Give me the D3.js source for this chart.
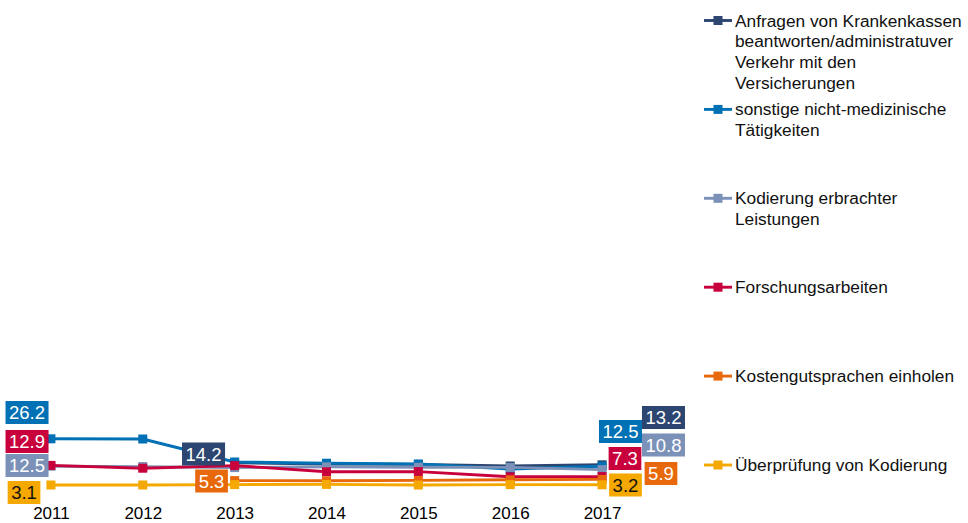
<!DOCTYPE html>
<html>
<head>
<meta charset="utf-8">
<script src="https://cdn.jsdelivr.net/npm/d3@7"></script>
<style>
  html, body { margin: 0; padding: 0; background: #fff; }
  svg { display: block; font-family: "Liberation Sans", Arial, sans-serif; }
</style>
</head>
<body>
<svg id="chart" width="968" height="523"></svg>
<script>
// Years on the category axis
const years = ["2011", "2012", "2013", "2014", "2015", "2016", "2017"];

// Series names (legend lines) and values per year (null = no value)
const seriesNames = [
  ["Anfragen von Krankenkassen", "beantworten/administratuver", "Verkehr mit den", "Versicherungen"],
  ["sonstige nicht-medizinische", "Tätigkeiten"],
  ["Kodierung erbrachter", "Leistungen"],
  ["Forschungsarbeiten"],
  ["Kostengutsprachen einholen"],
  ["Überprüfung von Kodierung"]
];
const anfragen      = [null, null, 14.2, 13.6, 13.4, 12.6, 13.2];
const sonstige      = [26.2, 26.1, 14.6, 14.0, 13.6, 11.1, 12.5];
const kodierung     = [12.5, 12.3, 11.8, 12.2, 12.0, 11.9, 10.8];
const forschung     = [12.9, 11.5, 12.8, 9.7, 9.8, 7.2, 7.3];
const kosten        = [null, null, 5.3, 5.2, 5.4, 5.7, 5.9];
const ueberpruefung = [3.1, 3.1, 3.3, 3.4, 3.1, 3.3, 3.2];
const seriesValues = [anfragen, sonstige, kodierung, forschung, kosten, ueberpruefung];

const colors = ["#2c4671", "#0071b4", "#7b91b8", "#c8003c", "#e8680c", "#f5a800"];
const labelTextColors = ["#fff", "#fff", "#fff", "#fff", "#fff", "#111"];

// Which points carry a value label, and where the label box sits relative to the point
const labelPlacement = [
  { s: 1, i: 0, dx: -23.9, dy: -26.3 },
  { s: 3, i: 0, dx: -23.9, dy: -23.9 },
  { s: 2, i: 0, dx: -23.9, dy: -0.7 },
  { s: 5, i: 0, dx: -26.9, dy: 7.5 },
  { s: 0, i: 2, dx: -31.1, dy: -8.8 },
  { s: 4, i: 2, dx: -23.1, dy: 0.4 },
  { s: 1, i: 6, dx: 18.4, dy: -34.7 },
  { s: 0, i: 6, dx: 61.4, dy: -47.3 },
  { s: 2, i: 6, dx: 61.4, dy: -24.6 },
  { s: 3, i: 6, dx: 22.9, dy: -18.1 },
  { s: 4, i: 6, dx: 58.9, dy: -5.9 },
  { s: 5, i: 6, dx: 23.4, dy: 0.2 }
];

const svg = d3.select("#chart");

const x = d3.scalePoint().domain(years).range([5, 648]).padding(0.5);
const y = d3.scaleLinear().domain([0, 240]).range([491.2, 11.2]);

// Category axis: labels only
const axis = svg.append("g")
  .attr("transform", `translate(0,${y(0)})`)
  .call(d3.axisBottom(x).tickSize(0).tickPadding(15.8));
axis.select(".domain").remove();
axis.selectAll("text")
  .attr("font-size", 17)
  .attr("fill", "#000")
  .attr("font-family", "Liberation Sans, Arial, sans-serif");

// Lines and square markers, drawn in legend order
const line = d3.line()
  .defined(d => d.v !== null)
  .x(d => x(d.year))
  .y(d => y(d.v));

const plot = svg.append("g");
seriesValues.forEach((vals, s) => {
  const pts = vals.map((v, i) => ({ year: years[i], v }));
  const g = plot.append("g");
  g.append("path")
    .attr("d", line(pts))
    .attr("fill", "none")
    .attr("stroke", colors[s])
    .attr("stroke-width", 2.9)
    .attr("stroke-linejoin", "round");
  g.selectAll("rect")
    .data(pts.filter(d => d.v !== null))
    .join("rect")
    .attr("x", d => x(d.year) - 4.5)
    .attr("y", d => y(d.v) - 4.5)
    .attr("width", 9)
    .attr("height", 9)
    .attr("fill", colors[s]);
});

// Value labels on coloured boxes
const labels = svg.append("g");
labelPlacement.forEach(p => {
  const v = seriesValues[p.s][p.i];
  const cx = x(years[p.i]) + p.dx;
  const cy = y(v) + p.dy;
  const g = labels.append("g");
  const t = g.append("text")
    .attr("x", cx)
    .attr("y", cy)
    .attr("dy", "0.36em")
    .attr("text-anchor", "middle")
    .attr("font-size", 18.5)
    .attr("fill", labelTextColors[p.s])
    .text(v.toFixed(1));
  const w = t.node().getComputedTextLength() + 7;
  g.insert("rect", "text")
    .attr("x", cx - w / 2)
    .attr("y", cy - 11.5)
    .attr("width", w)
    .attr("height", 23)
    .attr("fill", colors[p.s]);
});

// Legend
const legend = svg.append("g");
seriesNames.forEach((lines, s) => {
  const cy = 20.5 + s * 88.9;
  const g = legend.append("g");
  g.append("line")
    .attr("x1", 704).attr("x2", 732)
    .attr("y1", cy).attr("y2", cy)
    .attr("stroke", colors[s])
    .attr("stroke-width", 2.9);
  g.append("rect")
    .attr("x", 713.5).attr("y", cy - 4.5)
    .attr("width", 9).attr("height", 9)
    .attr("fill", colors[s]);
  const t = g.append("text")
    .attr("x", 735)
    .attr("y", cy + 6)
    .attr("font-size", 17.3)
    .attr("fill", "#111");
  lines.forEach((ln, k) => {
    t.append("tspan")
      .attr("x", 735)
      .attr("dy", k === 0 ? 0 : 20.8)
      .text(ln);
  });
});
</script>
</body>
</html>
